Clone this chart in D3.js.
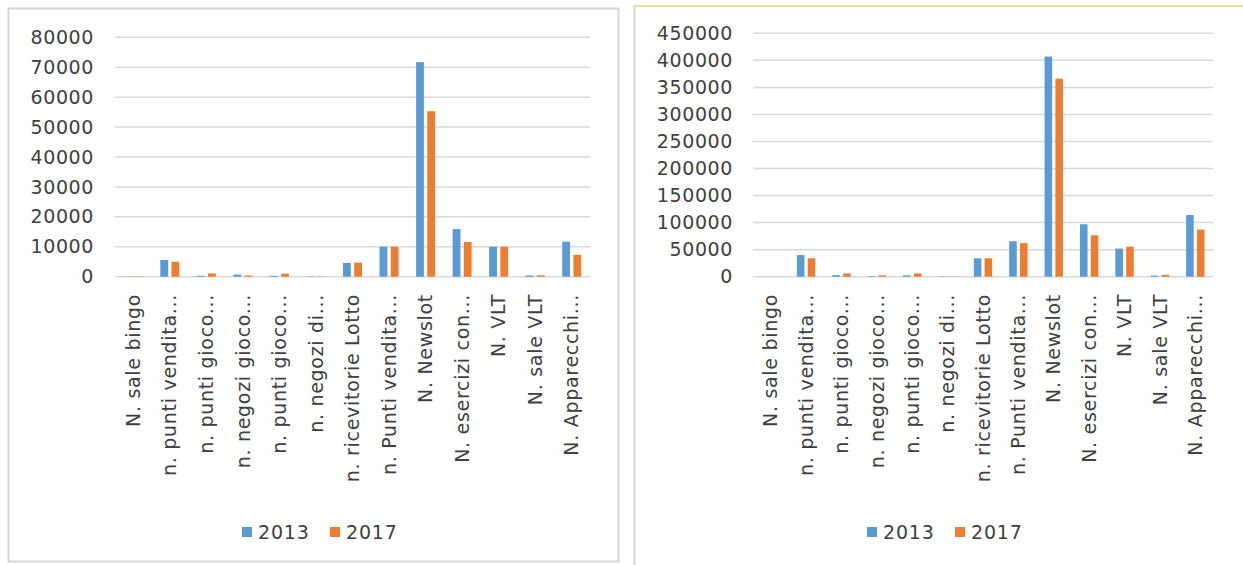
<!DOCTYPE html>
<html>
<head>
<meta charset="utf-8">
<script src="https://cdn.jsdelivr.net/npm/d3@7"></script>
<style>
  html, body { margin: 0; padding: 0; background: #ffffff; }
  svg { display: block; }
  text { font-family: "DejaVu Sans", sans-serif; fill: #404040; }
</style>
</head>
<body>
<svg id="chart" width="1243" height="565"></svg>
<script>
// ---- data ----
const categories = [
  "N. sale bingo",
  "n. punti vendita...",
  "n. punti gioco...",
  "n. negozi gioco...",
  "n. punti gioco... ",
  "n. negozi di...",
  "n. ricevitorie Lotto",
  "n. Punti vendita...",
  "N. Newslot",
  "N. esercizi con...",
  "N. VLT",
  "N. sale VLT",
  "N. Apparecchi..."
];
const seriesNames = ["2013", "2017"];
const left2013 = [80, 5600, 300, 700, 300, 100, 4600, 10000, 71700, 15900, 10000, 400, 11700];
const left2017 = [100, 5000, 1100, 400, 1000, 100, 4700, 10000, 55300, 11600, 10000, 500, 7300];
const right2013 = [200, 40000, 3000, 1000, 2500, 500, 34000, 65500, 407000, 97000, 52000, 2000, 114000];
const right2017 = [300, 34000, 6000, 2500, 6000, 500, 34000, 62000, 366000, 76500, 55500, 3500, 87000];
const leftTicks = [0, 10000, 20000, 30000, 40000, 50000, 60000, 70000, 80000];
const rightTicks = [0, 50000, 100000, 150000, 200000, 250000, 300000, 350000, 400000, 450000];

const colors = {"2013": "#5b9bd5", "2017": "#ed7d31"};

const svg = d3.select("#chart");

// panel frames
svg.append("rect").attr("x", 8.5).attr("y", 8.5).attr("width", 610).attr("height", 553)
  .attr("fill", "#fff").attr("stroke", "#d6d6d6").attr("stroke-width", 2);
svg.append("line").attr("x1", 634.5).attr("x2", 634.5).attr("y1", 5).attr("y2", 565)
  .attr("stroke", "#d6d6d6").attr("stroke-width", 2);
svg.append("line").attr("x1", 634).attr("x2", 1243).attr("y1", 6).attr("y2", 6)
  .attr("stroke", "#e8e39a").attr("stroke-width", 2);

function drawChart(cfg) {
  const g = svg.append("g");
  const y = d3.scaleLinear().domain([0, cfg.ticks[cfg.ticks.length - 1]]).range([cfg.y0, cfg.yTop]);
  const x0 = d3.scaleBand().domain(categories).range([cfg.xL, cfg.xR]).paddingInner(0.48).paddingOuter(0.24);
  const x1 = d3.scaleBand().domain(seriesNames).range([0, x0.bandwidth()]).paddingInner(0.3);

  // gridlines
  g.selectAll("line.grid").data(cfg.ticks).join("line")
    .attr("class", "grid")
    .attr("x1", cfg.xL).attr("x2", cfg.xR)
    .attr("y1", d => y(d)).attr("y2", d => y(d))
    .attr("stroke", "#d9d9d9").attr("stroke-width", 1.5);

  // y axis labels
  const yAxis = d3.axisLeft(y).tickValues(cfg.ticks).tickSize(0).tickPadding(0).tickFormat(d3.format("d"));
  const ya = g.append("g").attr("transform", `translate(${cfg.yLabelX},0)`).call(yAxis);
  ya.select(".domain").remove();
  ya.selectAll("text").attr("font-size", 19).attr("letter-spacing", 0.6)
    .style("font-family", '"DejaVu Sans", sans-serif').attr("fill", "#404040");

  // bars
  const rows = categories.map((c, i) => ({cat: c, vals: [cfg.s2013[i], cfg.s2017[i]]}));
  const grp = g.selectAll("g.cat").data(rows).join("g")
    .attr("transform", d => `translate(${x0(d.cat)},0)`);
  grp.selectAll("rect").data(d => d.vals.map((v, k) => ({key: seriesNames[k], v})))
    .join("rect")
    .attr("x", d => x1(d.key))
    .attr("width", x1.bandwidth())
    .attr("y", d => y(d.v))
    .attr("height", d => y(0) - y(d.v))
    .attr("fill", d => colors[d.key]);

  // x axis labels
  const xAxis = d3.axisBottom(x0).tickSize(0).tickPadding(0);
  const xa = g.append("g").attr("transform", `translate(0,${cfg.labelTop})`).call(xAxis);
  xa.select(".domain").remove();
  xa.selectAll("text")
    .attr("transform", "rotate(-90)")
    .attr("text-anchor", "end")
    .attr("x", 0).attr("y", 0).attr("dy", "0.35em")
    .attr("font-size", 19).attr("letter-spacing", 0.7)
    .style("font-family", '"DejaVu Sans", sans-serif').attr("fill", "#404040");

  // legend
  const lg = g.append("g").attr("transform", `translate(${cfg.legendCx},${cfg.legendY})`);
  const offs = [{key: "2013", sx: -78}, {key: "2017", sx: 10}];
  offs.forEach(o => {
    lg.append("rect").attr("x", o.sx).attr("y", -5).attr("width", 10).attr("height", 10).attr("fill", colors[o.key]);
    lg.append("text").attr("x", o.sx + 16).attr("y", 0).attr("dy", "0.35em")
      .attr("font-size", 19).attr("letter-spacing", 0.8).text(o.key);
  });
}

drawChart({
  ticks: leftTicks, s2013: left2013, s2017: left2017,
  xL: 115, xR: 590, y0: 276.7, yTop: 37.3, yLabelX: 94, labelTop: 294,
  legendCx: 320, legendY: 532
});
drawChart({
  ticks: rightTicks, s2013: right2013, s2017: right2017,
  xL: 753, xR: 1213, y0: 276.7, yTop: 33.3, yLabelX: 733, labelTop: 294,
  legendCx: 945, legendY: 532
});
</script>
</body>
</html>
